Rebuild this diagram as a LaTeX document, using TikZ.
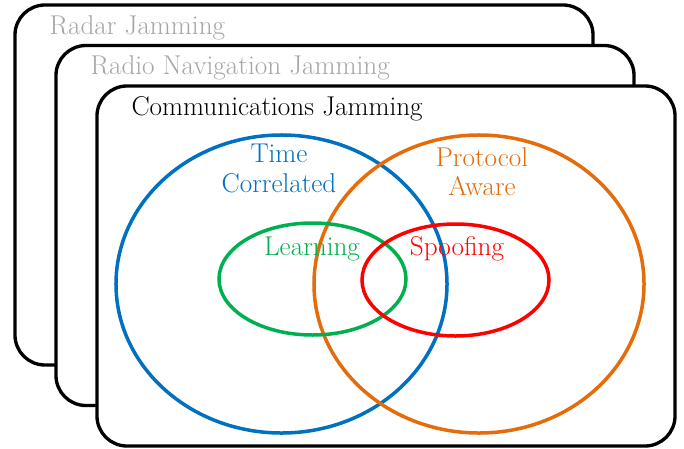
\documentclass[tikz,border=0pt]{standalone}
\usepackage{tikz}
\usetikzlibrary{calc}
\usetikzlibrary{positioning}
\usetikzlibrary{shapes.geometric}
\definecolor{tcblue}{HTML}{0070C0}
\definecolor{paorange}{HTML}{E46C0A}
\definecolor{legreen}{HTML}{00B050}
\definecolor{spred}{HTML}{FF0000}
\definecolor{layergray}{HTML}{A6A6A6}
\tikzset{layer/.style={rectangle,rounded corners=0.9cm,draw=black,line width=0.1cm,fill=white,minimum width=17.34cm,minimum height=10.8cm,inner sep=0pt}}
\tikzset{layertext/.style={anchor=base west,inner sep=0pt,font=\fontsize{23.2}{27}\selectfont}}
\tikzset{set/.style={ellipse,line width=0.105cm,inner sep=0pt}}
\tikzset{setlabel/.style={inner sep=0pt,align=center,font=\fontsize{23.2}{25.2}\selectfont}}

\begin{document}
\begin{tikzpicture}[x=0.03cm,y=-0.03cm]
\useasboundingbox (0,0) rectangle (684,448);

% stacked jamming layers
\foreach \i/\lbl/\col in {0/Radar Jamming/layergray,1/Radio Navigation Jamming/layergray,2/Communications Jamming/black} {
	\node (L\i) at (304+41*\i,185+40.5*\i) [layer] {};
	\node (T\i) at ($ (L\i.north west) + (36,31) $) [layertext,text=\col] {\lbl};
}

% sets
\node (TC) at (281.5,284) [set,draw=tcblue,minimum width=9.93cm,minimum height=8.94cm] {};
\node (PA) at (479,284) [set,draw=paorange,minimum width=9.9cm,minimum height=8.94cm] {};
\node (LE) at (312.5,279) [set,draw=legreen,minimum width=5.61cm,minimum height=3.36cm] {};
\node (SP) at (455.5,280) [set,draw=spred,minimum width=5.61cm,minimum height=3.36cm] {};

\node (TCl) at (279,144) [setlabel,anchor=north,text=tcblue] {Time\\Correlated};
\node (PAl) at (482,147) [setlabel,anchor=north,text=paorange] {Protocol\\Aware};
\node (LEl) at (312,255) [setlabel,anchor=base,text=legreen] {Learning};
\node (SPl) at (457,255) [setlabel,anchor=base,text=spred] {Spoofing};

\end{tikzpicture}
\end{document}
